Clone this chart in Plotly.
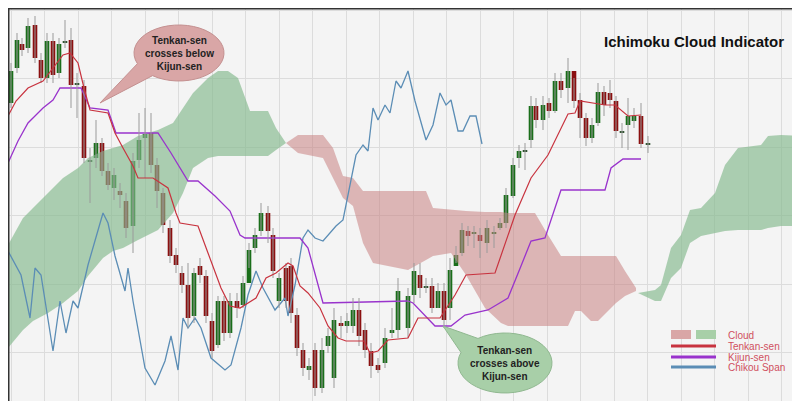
import plotly.graph_objects as go
import math

# candle x positions (time units) and open/close/high/low (chart units, axis reversed)
cx = [3, 9, 14, 20, 27, 33, 39, 45, 51, 57, 63, 69, 76, 82, 88, 94, 100, 106, 112, 118,
      125, 131, 137, 143, 149, 155, 162, 168, 174, 180, 186, 192, 198, 204, 210, 216, 222, 229, 235, 241,
      247, 253, 260, 265, 271, 278, 283, 289, 295, 301, 307, 314, 320, 326, 333, 339, 345, 351, 357, 363,
      370, 377, 384, 390, 400, 406, 412, 418, 424, 430, 436, 442, 448, 454, 460, 466, 472, 479, 486, 492,
      498, 505, 511, 517, 523, 528, 535, 541, 547, 553, 560, 566, 572, 578, 584, 590, 596, 602, 608, 614,
      620, 626, 633, 640]
c_open = [95, 60, 36, 40, 17, 52, 70, 33, 65, 33, 32, 75, 78, 152, 150, 135, 163, 180, 183, 193,
          218, 152, 130, 125, 157, 185, 220, 247, 265, 277, 308, 258, 268, 313, 337, 293, 325, 293, 297, 275,
          240, 223, 205, 227, 293, 260, 258, 307, 342, 362, 342, 380, 338, 370, 315, 318, 318, 302, 322, 343,
          357, 355, 325, 322, 320, 287, 267, 278, 278, 300, 283, 300, 258, 245, 223, 226, 227, 235, 226, 220,
          215, 188, 150, 142, 132, 98, 112, 95, 103, 73, 80, 63, 92, 110, 130, 115, 84, 85, 93, 123,
          117, 113, 108, 135]
c_close = [63, 32, 42, 18, 50, 70, 33, 67, 36, 33, 77, 75, 150, 152, 135, 163, 177, 167, 187, 220,
           153, 132, 126, 157, 183, 217, 248, 257, 277, 310, 265, 267, 308, 343, 293, 325, 293, 300, 275, 242,
           227, 205, 223, 263, 270, 293, 305, 340, 360, 358, 380, 342, 328, 312, 318, 313, 302, 328, 342, 358,
           362, 330, 322, 283, 288, 263, 280, 278, 300, 283, 312, 262, 247, 222, 228, 224, 233, 220, 224, 215,
           187, 157, 143, 142, 98, 112, 97, 103, 73, 82, 63, 93, 110, 130, 117, 84, 97, 92, 123, 123,
           108, 108, 136, 135]
c_high = [55, 25, 30, 10, 8, 45, 25, 25, 30, 12, 20, 65, 72, 140, 112, 130, 155, 160, 175, 185,
          145, 105, 100, 105, 150, 180, 212, 240, 258, 255, 260, 250, 262, 305, 288, 288, 285, 285, 268, 235,
          220, 195, 198, 220, 265, 255, 250, 300, 335, 350, 335, 330, 320, 300, 308, 305, 290, 290, 315, 335,
          350, 320, 300, 270, 280, 255, 255, 270, 270, 275, 275, 250, 238, 215, 218, 218, 220, 212, 218, 210,
          180, 150, 137, 135, 88, 90, 88, 90, 65, 65, 50, 70, 85, 105, 110, 75, 78, 72, 88, 115,
          90, 100, 95, 128]
c_low = [100, 65, 48, 45, 55, 75, 75, 75, 70, 40, 100, 110, 155, 195, 160, 168, 182, 192, 200, 230,
         245, 160, 170, 165, 200, 225, 255, 265, 285, 320, 315, 275, 315, 350, 340, 333, 330, 310, 300, 260,
         245, 228, 235, 270, 300, 300, 315, 348, 368, 372, 388, 385, 345, 380, 330, 325, 325, 338, 350, 370,
         365, 360, 330, 330, 330, 295, 290, 285, 305, 300, 320, 312, 255, 248, 238, 240, 250, 245, 240, 222,
         220, 190, 160, 162, 140, 120, 122, 110, 105, 90, 95, 100, 130, 138, 135, 118, 108, 100, 130, 140,
         142, 120, 140, 145]

# Tenkan-sen
tk_x = [0, 8, 20, 35, 45, 55, 62, 70, 76, 82, 100, 107, 115, 125, 130, 145, 160, 168, 172, 190,
        200, 213, 222, 232, 248, 258, 268, 280, 285, 292, 300, 312, 320, 330, 338, 356, 362, 370, 380, 400,
        410, 432, 447, 458, 487, 507, 523, 540, 560, 567, 572, 597, 607, 620, 633]
tk_y = [108, 93, 80, 73, 60, 47, 45, 55, 80, 102, 105, 125, 140, 158, 170, 170, 180, 205, 215, 218,
        245, 280, 298, 300, 290, 270, 265, 255, 258, 278, 285, 300, 318, 330, 333, 333, 345, 343, 332, 330,
        310, 310, 287, 267, 265, 207, 170, 147, 106, 105, 93, 97, 97, 108, 107]

# Kijun-sen
kj_x = [0, 10, 20, 35, 45, 52, 73, 82, 100, 108, 150, 163, 180, 190, 207, 222, 232, 237, 292, 300,
        315, 400, 405, 420, 427, 443, 457, 480, 500, 513, 523, 537, 553, 597, 603, 615, 633]
kj_y = [155, 133, 115, 100, 92, 80, 80, 100, 102, 125, 125, 145, 173, 173, 188, 203, 227, 230, 230, 240,
        295, 293, 295, 310, 318, 318, 307, 302, 290, 258, 233, 230, 182, 182, 160, 151, 151]

# Chikou Span
ch_x = [0, 13, 22, 27, 33, 45, 52, 58, 65, 70, 80, 95, 100, 107, 117, 120, 125, 137, 147, 157,
        163, 170, 175, 180, 187, 193, 203, 217, 223, 233, 240, 248, 255, 267, 277, 280, 287, 295, 300, 307,
        315, 328, 335, 348, 355, 360, 365, 370, 377, 382, 388, 393, 400, 407, 418, 425, 432, 438, 443, 450,
        455, 462, 468, 474]
ch_y = [243, 267, 310, 260, 267, 343, 293, 325, 293, 300, 257, 205, 215, 248, 283, 260, 293, 360, 377, 353,
        328, 362, 310, 320, 310, 320, 350, 362, 357, 320, 287, 263, 280, 302, 290, 308, 277, 230, 222, 230,
        233, 218, 212, 147, 137, 143, 100, 112, 97, 105, 73, 80, 63, 93, 132, 117, 85, 97, 92, 123,
        123, 108, 108, 136]

# cloud segments: (x, upper, lower)
bull1_x = [0, 15, 25, 40, 55, 70, 80, 95, 105, 115, 130, 150, 165, 175, 185, 200, 210, 220, 230, 242, 260, 268, 278]
bull1_up = [237, 210, 200, 185, 170, 160, 150, 143, 140, 137, 128, 122, 115, 100, 85, 70, 63, 63, 70, 103, 103, 120, 135]
bull1_lo = [340, 322, 313, 305, 295, 283, 268, 250, 243, 240, 232, 222, 205, 185, 160, 150, 148, 148, 148, 148, 148, 142, 135]
bear_x = [278, 290, 315, 325, 335, 345, 355, 365, 400, 418, 425, 443, 458, 477, 493, 500, 527, 540, 553, 560,
          567, 573, 583, 590, 608, 617, 628]
bear_up = [135, 127, 127, 140, 168, 170, 183, 183, 183, 183, 200, 202, 203, 204, 204, 205, 205, 227, 248, 248,
           248, 248, 248, 248, 248, 263, 280]
bear_lo = [135, 145, 150, 170, 190, 198, 235, 255, 262, 252, 248, 245, 267, 300, 315, 318, 318, 318, 318, 318,
           303, 303, 313, 313, 295, 288, 283]
bull2_x = [630, 647, 653, 663, 673, 682, 693, 707, 717, 730, 753, 760, 773, 793]
bull2_up = [285, 282, 277, 240, 227, 202, 200, 185, 157, 140, 137, 128, 127, 128]
bull2_lo = [285, 293, 293, 270, 260, 235, 228, 225, 223, 222, 222, 220, 218, 218]

GREEN_FILL = "rgba(130,185,140,0.65)"
RED_FILL = "rgba(200,130,130,0.55)"
UP_COL = "#1a6e1a"
DOWN_COL = "#8b1010"

fig = go.Figure()

for xs, up, lo, col in [(bull1_x, bull1_up, bull1_lo, GREEN_FILL),
                        (bear_x, bear_up, bear_lo, RED_FILL),
                        (bull2_x, bull2_up, bull2_lo, GREEN_FILL)]:
    fig.add_trace(go.Scatter(x=xs, y=up, mode="lines", line=dict(width=0), hoverinfo="skip"))
    fig.add_trace(go.Scatter(x=xs, y=lo, mode="lines", line=dict(width=0), fill="tonexty",
                             fillcolor=col, hoverinfo="skip"))

fig.add_trace(go.Scatter(x=ch_x, y=ch_y, mode="lines", line=dict(color="#5b8db5", width=1.3)))
fig.add_trace(go.Scatter(x=kj_x, y=kj_y, mode="lines", line=dict(color="#9933cc", width=1.3)))

# wicks
wx, wy = [], []
for x, h, l in zip(cx, c_high, c_low):
    wx += [x, x, None]
    wy += [h, l, None]
fig.add_trace(go.Scatter(x=wx, y=wy, mode="lines", line=dict(color="#9a9a9a", width=1)))

# bodies
body_h = [c - o if c != o else 1.5 for o, c in zip(c_open, c_close)]
body_col = [UP_COL if c < o else (DOWN_COL if c > o else "#335533") for o, c in zip(c_open, c_close)]
fig.add_trace(go.Bar(x=cx, y=body_h, base=c_open, width=4.6, marker=dict(color=body_col, line=dict(width=0))))

fig.add_trace(go.Scatter(x=tk_x, y=tk_y, mode="lines", line=dict(color="#c8333f", width=1.2)))


def bubble(cx0, cy0, rx, ry, tx, ty, a0, a1):
    p = "M %f %f " % (cx0 + rx * math.cos(a0), cy0 + ry * math.sin(a0))
    p += "L %f %f " % (tx, ty)
    p += "L %f %f " % (cx0 + rx * math.cos(a1), cy0 + ry * math.sin(a1))
    n = 40
    span = (a0 - a1) % (2 * math.pi)
    for k in range(1, n + 1):
        t = a1 + span * k / n
        p += "L %f %f " % (cx0 + rx * math.cos(t), cy0 + ry * math.sin(t))
    return p + "Z"


shapes = [
    dict(type="path", path=bubble(171, 45, 45, 28, 92, 95, 2.2, 2.75),
         fillcolor="#d9a6a6", line=dict(color="#c49090", width=1), layer="above"),
    dict(type="path", path=bubble(497, 355, 47, 30, 435, 318, 3.5, 4.1),
         fillcolor="#a8cfa8", line=dict(color="#90b890", width=1), layer="above"),
    dict(type="rect", xref="paper", yref="paper", x0=0, y0=0, x1=1, y1=1,
         line=dict(color="#333333", width=3)),
    dict(type="rect", x0=663, x1=683, y0=322, y1=331, fillcolor="#d9a6a6", line=dict(width=0), layer="above"),
    dict(type="rect", x0=688, x1=708, y0=322, y1=331, fillcolor="#a8cfa8", line=dict(width=0), layer="above"),
    dict(type="line", x0=663, x1=708, y0=338, y1=338, line=dict(color="#c8333f", width=3), layer="above"),
    dict(type="line", x0=663, x1=708, y0=349, y1=349, line=dict(color="#9933cc", width=3), layer="above"),
    dict(type="line", x0=663, x1=708, y0=359, y1=359, line=dict(color="#5b8db5", width=3), layer="above"),
]

ann = [
    dict(x=171, y=45, text="<b>Tenkan-sen<br>crosses below<br>Kijun-sen</b>", showarrow=False,
         font=dict(size=10, color="#222")),
    dict(x=497, y=355, text="<b>Tenkan-sen<br>crosses above<br>Kijun-sen</b>", showarrow=False,
         font=dict(size=10, color="#222")),
    dict(x=686, y=33, text="<b>Ichimoku Cloud Indicator</b>", showarrow=False,
         font=dict(size=15, color="#111")),
]
for yy, t in [(327, "Cloud"), (338, "Tenkan-sen"), (349, "Kijun-sen"), (359, "Chikou Span")]:
    ann.append(dict(x=718, y=yy, text=t, showarrow=False, xanchor="left",
                    font=dict(size=10, color="#d05060")))

fig.update_layout(
    width=800, height=401, margin=dict(l=0, r=0, t=0, b=0),
    paper_bgcolor="#f4f4f4", plot_bgcolor="#f4f4f4", showlegend=False,
    font=dict(family="Liberation Sans"),
    xaxis=dict(range=[0, 800], showticklabels=False,
               showgrid=True, gridcolor="#dcdcdc", tick0=3, dtick=33.5, zeroline=False),
    yaxis=dict(range=[401, 0], showticklabels=False, showgrid=True, gridcolor="#dcdcdc",
               tick0=2, dtick=68.5, zeroline=False),
    shapes=shapes, annotations=ann,
)

fig.write_html("out.html")
